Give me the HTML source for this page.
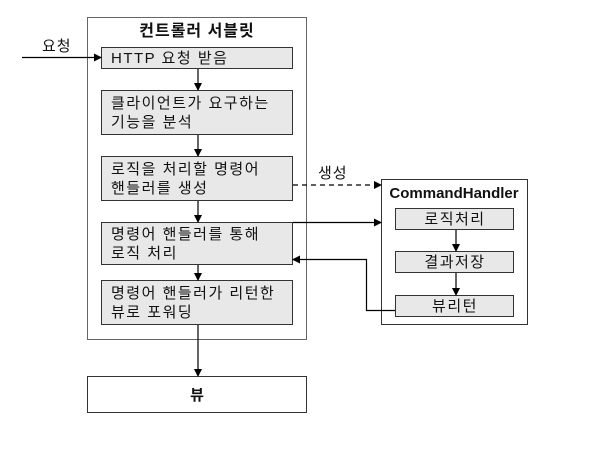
<!DOCTYPE html>
<html><head><meta charset="utf-8">
<style>
html,body{margin:0;padding:0;background:#fff;}
svg{display:block;}
text{font-family:"Liberation Sans","Noto Sans CJK KR","NanumGothic",sans-serif;fill:#111;}
</style></head>
<body>
<svg width="600" height="453" viewBox="0 0 600 453" xmlns="http://www.w3.org/2000/svg">
<defs>
<marker id="a" markerWidth="8" markerHeight="8" refX="7" refY="4" orient="auto" markerUnits="userSpaceOnUse">
<path d="M0,0 L8,4 L0,8 Z" fill="#000"/>
</marker>
</defs>
<rect x="87.5" y="17.5" width="219" height="322" fill="#fff" stroke="#666" stroke-width="1"/>
<text x="197" y="36" font-size="16" font-weight="bold" text-anchor="middle" letter-spacing="1">컨트롤러 서블릿</text>

<g fill="#e8e8e8" stroke="#333" stroke-width="1">
<rect x="101.5" y="47.5" width="191" height="21"/>
<rect x="101.5" y="90.5" width="191" height="44"/>
<rect x="101.5" y="156.5" width="191" height="44"/>
<rect x="101.5" y="222.5" width="191" height="42"/>
<rect x="101.5" y="280.5" width="191" height="44"/>
</g>
<g font-size="15" letter-spacing="1.5">
<text x="111" y="63">HTTP 요청 받음</text>
<text x="111" y="108">클라이언트가 요구하는</text>
<text x="111" y="127">기능을 분석</text>
<text x="111" y="174">로직을 처리할 명령어</text>
<text x="111" y="193">핸들러를 생성</text>
<text x="111" y="239">명령어 핸들러를 통해</text>
<text x="111" y="258">로직 처리</text>
<text x="111" y="298">명령어 핸들러가 리턴한</text>
<text x="111" y="317">뷰로 포워딩</text>
</g>

<rect x="87.5" y="376.5" width="219" height="36" fill="#fff" stroke="#333" stroke-width="1"/>
<text x="197" y="400" font-size="15" font-weight="bold" text-anchor="middle">뷰</text>

<rect x="381.5" y="179.5" width="146" height="145" fill="#fff" stroke="#333" stroke-width="1"/>
<text x="454" y="198" font-size="15" font-weight="bold" text-anchor="middle">CommandHandler</text>
<g fill="#e8e8e8" stroke="#333" stroke-width="1">
<rect x="395.5" y="208.5" width="118" height="21"/>
<rect x="395.5" y="251.5" width="118" height="21"/>
<rect x="395.5" y="295.5" width="118" height="21"/>
</g>
<g font-size="15" text-anchor="middle" letter-spacing="1.5">
<text x="455" y="224">로직처리</text>
<text x="455" y="267">결과저장</text>
<text x="455" y="311">뷰리턴</text>
</g>

<g stroke="#000" stroke-width="1.2" fill="none">
<line x1="22" y1="57.5" x2="101" y2="57.5" marker-end="url(#a)"/>
<line x1="198" y1="69" x2="198" y2="90" marker-end="url(#a)"/>
<line x1="198" y1="135" x2="198" y2="156" marker-end="url(#a)"/>
<line x1="198" y1="201" x2="198" y2="222" marker-end="url(#a)"/>
<line x1="198" y1="265" x2="198" y2="280" marker-end="url(#a)"/>
<line x1="198" y1="325" x2="198" y2="376" marker-end="url(#a)"/>
<line x1="293" y1="185" x2="381" y2="185" stroke-dasharray="5,4" marker-end="url(#a)"/>
<line x1="293" y1="222.5" x2="381" y2="222.5" marker-end="url(#a)"/>
<polyline points="395,310.5 366.5,310.5 366.5,259.5 293,259.5" marker-end="url(#a)"/>
<line x1="456" y1="230" x2="456" y2="251" marker-end="url(#a)"/>
<line x1="456" y1="273" x2="456" y2="295" marker-end="url(#a)"/>
</g>
<text x="42" y="51" font-size="15" letter-spacing="1">요청</text>
<text x="318" y="178" font-size="15" letter-spacing="1">생성</text>
</svg>
</body></html>
